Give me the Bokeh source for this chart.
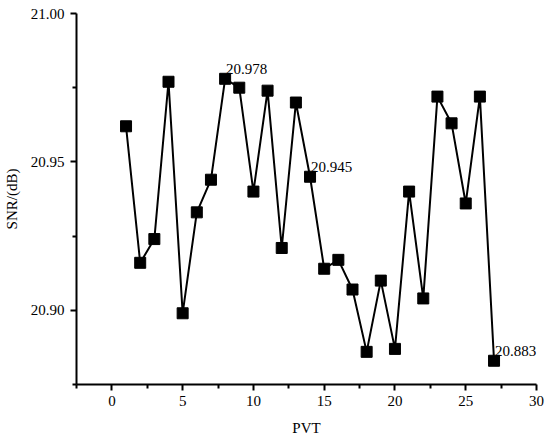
from bokeh.plotting import figure
from bokeh.models import Range1d, FixedTicker, ColumnDataSource, CustomJSTickFormatter, LabelSet
from bokeh.embed import file_html
from bokeh.resources import INLINE

pvt = list(range(1, 28))
snr = [20.962, 20.916, 20.924, 20.977, 20.899, 20.933, 20.944, 20.978, 20.975,
       20.940, 20.974, 20.921, 20.970, 20.945, 20.914, 20.917, 20.907, 20.886,
       20.910, 20.887, 20.940, 20.904, 20.972, 20.963, 20.936, 20.972, 20.883]

label_x = [8, 14, 27]
label_y = [20.978, 20.945, 20.883]
label_text = ["20.978", "20.945", "20.883"]

x_ticks = [0, 5, 10, 15, 20, 25, 30]
x_minor = [-2.5, 2.5, 7.5, 12.5, 17.5, 22.5, 27.5]
y_ticks = [20.90, 20.95, 21.00]
y_minor = [20.875, 20.925, 20.975]

FONT = "Liberation Serif"

p = figure(frame_width=460, frame_height=371, output_backend="svg", toolbar_location=None,
           x_range=Range1d(-2.5, 30), y_range=Range1d(20.875, 21.0),
           min_border_left=69, min_border_right=10, min_border_top=13,
           min_border_bottom=50)
p.outline_line_color = None
p.grid.visible = False
p.background_fill_color = "white"
p.border_fill_color = "white"

p.line(pvt, snr, line_color="black", line_width=2)
p.scatter(pvt, snr, marker="square", size=11, fill_color="black", line_color="black")

src = ColumnDataSource(dict(x=label_x, y=label_y, t=label_text))
labels = LabelSet(x="x", y="y", text="t", source=src, x_offset=1, y_offset=5,
                  text_font=FONT, text_font_size="15px", text_baseline="bottom",
                  text_align="left", text_color="black")
p.add_layout(labels)

p.xaxis.ticker = FixedTicker(ticks=x_ticks, minor_ticks=x_minor)
p.yaxis.ticker = FixedTicker(ticks=y_ticks, minor_ticks=y_minor)
p.yaxis.formatter = CustomJSTickFormatter(code="return tick.toFixed(2);")

for ax in (p.xaxis[0], p.yaxis[0]):
    ax.axis_line_width = 2
    ax.axis_line_color = "black"
    ax.major_tick_line_width = 2
    ax.minor_tick_line_width = 2
    ax.major_tick_in = 0
    ax.major_tick_out = 6
    ax.minor_tick_in = 0
    ax.minor_tick_out = 4
    ax.major_label_text_font = FONT
    ax.major_label_text_font_size = "15px"
    ax.major_label_text_color = "black"
    ax.axis_label_text_font = FONT
    ax.axis_label_text_font_size = "15px"
    ax.axis_label_text_font_style = "normal"
    ax.axis_label_text_color = "black"

p.xaxis.axis_label = "PVT"
p.yaxis.axis_label = "SNR/(dB)"
p.xaxis.major_label_standoff = 5
p.yaxis.major_label_standoff = 6
p.xaxis.axis_label_standoff = 11
p.yaxis.axis_label_standoff = 8

open("out.html", "w").write(file_html(p, INLINE))
